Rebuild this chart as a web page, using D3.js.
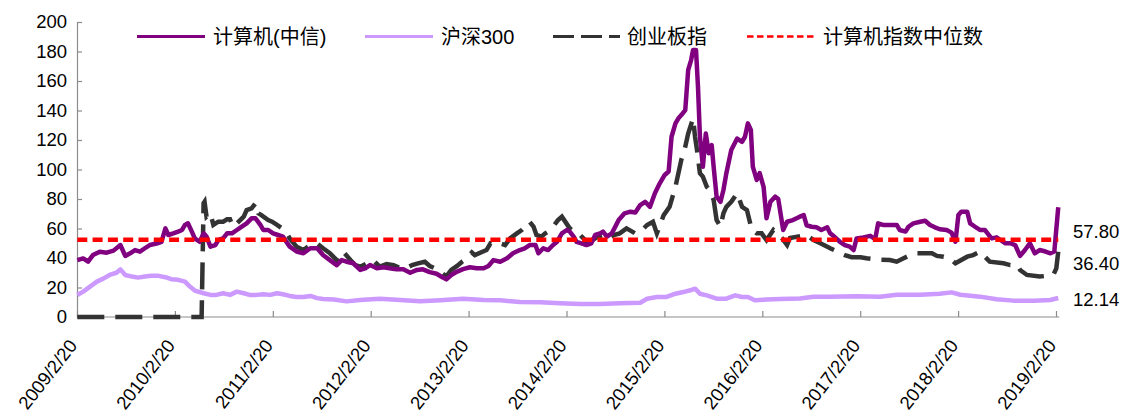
<!DOCTYPE html>
<html>
<head>
<meta charset="utf-8">
<script src="https://cdn.jsdelivr.net/npm/d3@7"></script>
<style>
  html, body { margin: 0; padding: 0; background: #fff; }
  svg { display: block; }
  text { font-family: "Liberation Sans", Arial, "Noto Sans CJK SC", sans-serif; fill: #000; }
</style>
</head>
<body>
<div id="chart"></div>
<script>
// ---------------- data (time as decimal year) ----------------
const seriesNames = ["计算机(中信)", "沪深300", "创业板指", "计算机指数中位数"];

const computerT = [2009.14,2009.20,2009.25,2009.30,2009.37,2009.44,2009.51,2009.58,2009.63,2009.68,2009.73,2009.78,2009.83,2009.88,2009.95,2010.00,2010.04,2010.07,2010.12,2010.17,2010.21,2010.24,2010.27,2010.31,2010.34,2010.39,2010.43,2010.46,2010.50,2010.55,2010.58,2010.63,2010.67,2010.72,2010.77,2010.82,2010.87,2010.92,2010.96,2011.01,2011.04,2011.09,2011.14,2011.19,2011.24,2011.31,2011.38,2011.45,2011.52,2011.59,2011.65,2011.72,2011.79,2011.84,2011.89,2011.96,2012.03,2012.08,2012.13,2012.20,2012.27,2012.33,2012.40,2012.47,2012.54,2012.61,2012.67,2012.74,2012.81,2012.86,2012.91,2012.96,2013.02,2013.08,2013.15,2013.22,2013.29,2013.34,2013.39,2013.46,2013.53,2013.59,2013.66,2013.71,2013.76,2013.82,2013.85,2013.90,2013.95,2014.00,2014.04,2014.09,2014.14,2014.17,2014.21,2014.24,2014.29,2014.34,2014.39,2014.43,2014.48,2014.51,2014.55,2014.60,2014.67,2014.73,2014.79,2014.84,2014.89,2014.94,2014.99,2015.04,2015.09,2015.14,2015.18,2015.21,2015.25,2015.28,2015.31,2015.35,2015.38,2015.41,2015.43,2015.46,2015.48,2015.50,2015.53,2015.56,2015.59,2015.62,2015.64,2015.67,2015.71,2015.74,2015.77,2015.82,2015.88,2015.93,2015.96,2015.99,2016.02,2016.04,2016.08,2016.11,2016.15,2016.18,2016.22,2016.27,2016.30,2016.35,2016.39,2016.45,2016.52,2016.56,2016.59,2016.64,2016.69,2016.74,2016.80,2016.83,2016.88,2016.93,2016.98,2017.03,2017.07,2017.10,2017.17,2017.24,2017.29,2017.32,2017.37,2017.44,2017.51,2017.54,2017.60,2017.63,2017.68,2017.75,2017.80,2017.85,2017.90,2017.95,2018.02,2018.07,2018.11,2018.14,2018.17,2018.23,2018.26,2018.31,2018.36,2018.41,2018.45,2018.48,2018.53,2018.57,2018.62,2018.67,2018.72,2018.77,2018.82,2018.87,2018.92,2018.97,2019.03,2019.08,2019.12,2019.16];
const computerV = [38.6,39.7,37.5,42,44.3,43.6,45,48.8,41.4,43.2,45.4,44.3,46.6,48.8,49.8,51,60.1,55.6,56.7,57.9,59,62.4,63.5,57.9,53.3,51,56.7,54.5,47.7,48.8,52.2,53.3,56.7,56.7,59,61.3,63.5,66.9,66.9,62.4,59,59,56.7,55.6,54.5,47.7,44.4,43.2,46.6,46.6,42,38.6,35.2,38.6,37.5,36.4,31.9,33,35.2,33,33.7,33,32.3,32.3,30,31.9,32.3,30.4,29.3,27.3,25.5,28.5,30.8,32.5,33.7,33,33,34.6,38.6,37.5,39.8,43.2,45.4,46.6,48.8,48.8,43.2,46.6,45.4,48.8,51,56.7,59,57.9,54.5,51,49.9,48.8,49.9,55.6,56.7,57.9,54.5,56.7,65.8,70.3,71.4,70.8,75.9,78.1,74.7,83.9,90.6,96.3,98.6,122.2,131.3,134.7,136.9,140.3,167.5,174.2,181,181,156.1,122.2,101.9,124.4,111,116.6,101.9,81.6,78.1,86.1,97.5,113.2,121,118.8,122.2,131.3,126.8,101.9,92.9,97.5,88.3,66.9,78.1,81.6,80,59,64.6,65.7,68,69.1,62.2,61.2,60.8,59,60.8,56.7,54,51,48.8,47.7,45.4,53.3,54,55,52.7,63.5,62.4,62.4,62.4,59,57.9,61.2,63.5,64.6,65.3,62.4,60.8,59.5,59,57.2,51,69.1,71.4,71.4,63.5,61.2,59,59,55.6,53.3,54,52.2,50,50,48.8,41.4,45.4,50,43.2,45.4,44.4,43.2,44.4,74.4];

const hs300T = [2009.14,2009.20,2009.27,2009.34,2009.41,2009.47,2009.54,2009.58,2009.63,2009.70,2009.76,2009.83,2009.90,2009.97,2010.04,2010.10,2010.17,2010.24,2010.29,2010.34,2010.43,2010.50,2010.56,2010.63,2010.70,2010.77,2010.84,2010.90,2010.97,2011.04,2011.11,2011.18,2011.24,2011.31,2011.38,2011.45,2011.52,2011.59,2011.65,2011.76,2011.89,2012.03,2012.23,2012.44,2012.64,2012.85,2013.08,2013.29,2013.46,2013.66,2013.87,2014.07,2014.28,2014.48,2014.68,2014.89,2014.96,2015.06,2015.16,2015.25,2015.33,2015.42,2015.45,2015.50,2015.57,2015.67,2015.77,2015.86,2015.93,2015.99,2016.06,2016.18,2016.32,2016.52,2016.66,2016.83,2017.10,2017.34,2017.51,2017.75,2017.95,2018.07,2018.16,2018.36,2018.53,2018.70,2018.91,2019.08,2019.16];
const hs300V = [14.9,17.2,20.6,24,26.2,28.5,30,32.3,28.5,27.4,26.7,27.4,27.9,27.9,27,25.6,25.2,24,20.6,17.9,16.1,15,15,16.1,15,17.2,16.1,15,15,15.4,15,16.1,15.4,14.3,13.6,13.6,14.3,12.8,12.2,11.8,10.6,11.5,12.4,11.5,10.6,11.3,12.4,11.5,11.3,10.2,10,9.3,8.8,8.8,9.3,9.7,12.4,13.6,13.6,15.8,16.9,18.5,19.2,15.8,14.7,12.4,12.4,14.7,13.6,13.6,11.3,11.8,12.2,12.6,13.8,13.8,14.1,13.8,15.1,15.1,15.8,16.7,15.1,13.8,12,11.1,11.1,11.5,12.9];

const chinextT = [2009.14,2010.41,2010.43,2010.44,2010.46,2010.50,2010.53,2010.58,2010.63,2010.67,2010.70,2010.73,2010.77,2010.84,2010.87,2010.92,2010.96,2010.99,2011.02,2011.09,2011.13,2011.18,2011.23,2011.28,2011.31,2011.38,2011.45,2011.52,2011.59,2011.65,2011.72,2011.79,2011.84,2011.87,2011.93,2011.98,2012.03,2012.10,2012.16,2012.23,2012.30,2012.37,2012.44,2012.51,2012.56,2012.62,2012.69,2012.74,2012.81,2012.91,2012.96,2013.02,2013.07,2013.12,2013.17,2013.20,2013.32,2013.36,2013.41,2013.46,2013.51,2013.56,2013.63,2013.68,2013.73,2013.76,2013.80,2013.83,2013.88,2013.92,2013.95,2014.00,2014.05,2014.09,2014.17,2014.21,2014.26,2014.31,2014.36,2014.41,2014.46,2014.51,2014.56,2014.62,2014.68,2014.75,2014.84,2014.91,2014.96,2015.02,2015.06,2015.13,2015.19,2015.25,2015.28,2015.31,2015.35,2015.38,2015.43,2015.45,2015.47,2015.50,2015.53,2015.57,2015.60,2015.64,2015.67,2015.71,2015.74,2015.77,2015.82,2015.88,2015.93,2015.98,2016.03,2016.08,2016.13,2016.18,2016.25,2016.30,2016.34,2016.39,2016.42,2016.59,2016.66,2016.73,2016.80,2016.83,2016.98,2017.05,2017.14,2017.20,2017.29,2017.44,2017.51,2017.58,2017.65,2017.71,2017.87,2017.92,2017.99,2018.05,2018.11,2018.23,2018.29,2018.36,2018.41,2018.46,2018.60,2018.67,2018.74,2018.77,2018.84,2018.97,2019.04,2019.11,2019.14,2019.16];
const chinextV = [0,0,77.1,78.1,68,70.3,62.4,64.6,64.6,66.2,66.2,61.3,63.5,68,72.5,73.6,77.1,70.3,69.1,65.7,64.6,62.4,60.1,56.7,53.3,47.7,45.4,48.8,49.9,46.6,43.2,38.6,44.3,43.2,38.6,35.2,34.1,36.4,38.6,34.1,35.9,35.2,33,33.5,35.2,36.4,37.5,34.6,32.5,27.5,31.9,34.6,37.5,39.8,43.7,42,45.4,49.9,48.8,49.9,48.8,53.3,56.7,59,62.4,64.6,61.3,55.6,54.5,56.7,57.9,61.3,65.7,68,60.1,57.9,56.7,53.3,49.9,52.5,54.5,55.6,53.3,55.5,56.7,60.1,56.7,59,62.4,64.6,56.7,69.1,74.7,88.3,97.5,106.6,115.5,124.4,134.7,122.2,113.2,97.5,95.2,88.3,86.1,79.3,65.8,61.2,70.3,74.7,78.1,83.9,74.7,72.5,59,56.7,56.7,52.2,59,55.6,53.3,48.8,53.6,55.6,52.2,50,47.7,46.6,42,40.5,40.5,39.8,39.1,38.6,37.5,39.8,42,43.2,43.2,41.4,40.9,39.8,36.4,40.9,42,44.3,40.9,37.5,36.4,35.2,35.2,31.9,28.5,27.4,27.9,28.5,33,44.3];

const medianValue = 52.3;
const endLabels = [57.80, 36.40, 12.14];

const yTicks = [0,20,40,60,80,100,120,140,160,180,200];
const xTickLabels = ["2009/2/20","2010/2/20","2011/2/20","2012/2/20","2013/2/20","2014/2/20","2015/2/20","2016/2/20","2017/2/20","2018/2/20","2019/2/20"];
const xTickValues = [2009.137,2010.137,2011.137,2012.137,2013.137,2014.137,2015.137,2016.137,2017.137,2018.137,2019.137];

// ---------------- layout ----------------
const W = 1126, H = 418;
const svg = d3.select("#chart").append("svg").attr("width", W).attr("height", H);

const x = d3.scaleLinear().domain([2009.137, 2019.137]).range([77, 1056]);
const y = d3.scaleLinear().domain([0, 200]).range([317, 22]);
const tMin = 2009.14, tMax = 2019.16;

const axisColor = "#8c8c8c";

// y axis (inside ticks)
const yAxis = svg.append("g").attr("transform", `translate(${x(2009.137)},0)`)
  .call(d3.axisLeft(y).tickValues(yTicks).tickSize(-5).tickPadding(10).tickFormat(d3.format("d")));
yAxis.select(".domain").attr("stroke", axisColor).attr("stroke-width", 1.2);
yAxis.selectAll(".tick line").attr("stroke", axisColor).attr("stroke-width", 1.2);
yAxis.selectAll(".tick text").attr("font-size", "18.5px").attr("font-family", "Liberation Sans, Arial").attr("fill", "#000");

// x axis (inside ticks)
const xAxis = svg.append("g").attr("transform", `translate(0,${y(0)})`)
  .call(d3.axisBottom(x).tickValues(xTickValues).tickSize(-6).tickFormat(""));
xAxis.select(".domain").attr("stroke", axisColor).attr("stroke-width", 1.2)
  .attr("d", `M${x(2009.137)},0H${x(tMax) + 1}`);
xAxis.selectAll(".tick line").attr("stroke", axisColor).attr("stroke-width", 1.2);

// rotated x labels
svg.append("g").selectAll("text").data(xTickValues).join("text")
  .attr("transform", d => `translate(${x(d) + 1},${y(0) + 29}) rotate(-52)`)
  .attr("text-anchor", "end")
  .attr("font-size", "18.5px")
  .text((d, i) => xTickLabels[i]);

// series
function pts(T, V) { return T.map((t, i) => [t, V[i]]); }
const line = d3.line().x(d => x(d[0])).y(d => y(d[1]));

svg.append("path").datum(pts(hs300T, hs300V))
  .attr("d", line).attr("fill", "none").attr("stroke", "#CC99FF")
  .attr("stroke-width", 4.5).attr("stroke-linejoin", "round");

svg.append("path").datum(pts(chinextT, chinextV))
  .attr("d", line).attr("fill", "none").attr("stroke", "#333333")
  .attr("stroke-width", 4.5).attr("stroke-dasharray", "27,11");

svg.append("path").datum(pts(computerT, computerV))
  .attr("d", line).attr("fill", "none").attr("stroke", "#800080")
  .attr("stroke-width", 4.5).attr("stroke-linejoin", "round");

svg.append("path").datum([[tMin, medianValue], [tMax, medianValue]])
  .attr("d", line).attr("fill", "none").attr("stroke", "#FF0000")
  .attr("stroke-width", 4.5).attr("stroke-dasharray", "10,5.3");

// end labels
svg.append("g").selectAll("text").data(endLabels).join("text")
  .attr("x", 1073).attr("y", d => y(d)).attr("dy", "0.36em")
  .attr("font-size", "18.5px")
  .text(d => d.toFixed(2));

// legend
const legendY = 36.5;
const legend = [
  { name: seriesNames[0], x1: 137, x2: 205, tx: 213, color: "#800080", dash: null, w: 3 },
  { name: seriesNames[1], x1: 365, x2: 433, tx: 441, color: "#CC99FF", dash: null, w: 3 },
  { name: seriesNames[2], x1: 553, x2: 620, tx: 627, color: "#333333", dash: "21,7", w: 2.8 },
  { name: seriesNames[3], x1: 747, x2: 817, tx: 823, color: "#FF0000", dash: "6.5,3.5", w: 2.6 }
];
const lg = svg.append("g");
legend.forEach(d => {
  lg.append("line").attr("x1", d.x1).attr("x2", d.x2).attr("y1", legendY).attr("y2", legendY)
    .attr("stroke", d.color).attr("stroke-width", d.w).attr("stroke-dasharray", d.dash);
  lg.append("text").attr("x", d.tx).attr("y", legendY + 7.5)
    .attr("font-size", "20px")
    .attr("font-family", "Liberation Sans, Noto Sans CJK SC")
    .text(d.name);
});
</script>
</body>
</html>
